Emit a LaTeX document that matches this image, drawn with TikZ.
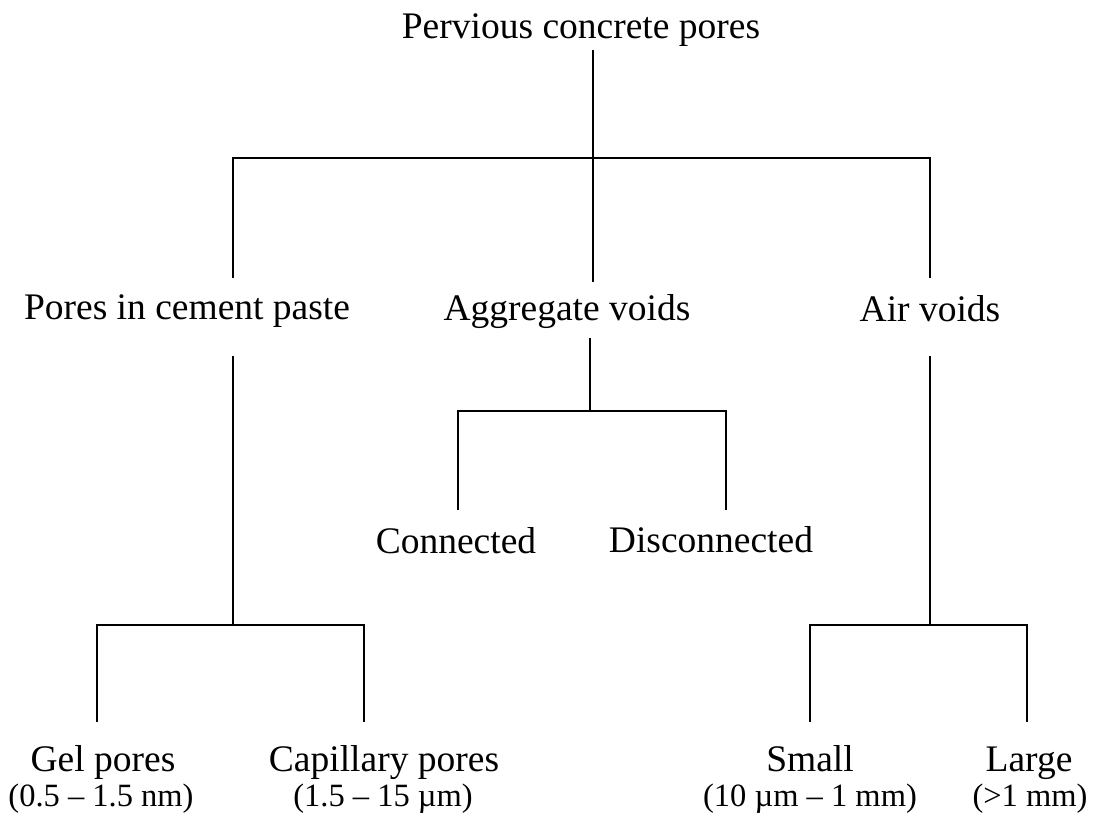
\documentclass[tikz,border=0pt]{standalone}
\usepackage{fontspec}
\setmainfont{Liberation Serif}
\begin{document}
\begin{tikzpicture}[x=1pt,y=-1pt,
  lbl/.style={inner sep=0pt, anchor=base, font=\fontsize{37.5}{44}\selectfont},
  sub/.style={inner sep=0pt, anchor=base, font=\fontsize{32.5}{38}\selectfont},
  conn/.style={line width=1.2pt, line cap=butt}]
\useasboundingbox (0,0) rectangle (1098,813);
% labels
\node[lbl] (root) at (581,39) {Pervious concrete pores};
\node[lbl] (paste) at (187,319) {Pores in cement paste};
\node[lbl] (agg) at (567,320) {Aggregate voids};
\node[lbl] (air) at (930,321) {Air voids};
\node[lbl] (con) at (456,553) {Connected};
\node[lbl] (dis) at (711,552) {Disconnected};
\node[lbl] (gel) at (103,771) {Gel pores};
\node[sub] (gelr) at (101,806) {(0.5 – 1.5 nm)};
\node[lbl] (cap) at (384,771) {Capillary pores};
\node[sub] (capr) at (383,806) {(1.5 – 15 µm)};
\node[lbl] (small) at (810,771) {Small};
\node[sub] (smallr) at (810,806) {(10 µm – 1 mm)};
\node[lbl] (large) at (1029,771) {Large};
\node[sub] (larger) at (1030,806) {(>1 mm)};
% junction coordinates
\coordinate (r0) at (593,50);
\coordinate (r1) at (593,158);
\coordinate (bl) at (233,158);
\coordinate (br) at (930,158);
\coordinate (pasteT) at (233,278);
\coordinate (aggT) at (593,282);
\coordinate (airT) at (930,278);
\coordinate (pasteB) at (233,356);
\coordinate (pasteJ) at (233,625);
\coordinate (gelJ) at (97,625);
\coordinate (capJ) at (364,625);
\coordinate (gelT) at (97,722);
\coordinate (capT) at (364,722);
\coordinate (aggB) at (590,338);
\coordinate (aggJ) at (590,411);
\coordinate (conJ) at (458,411);
\coordinate (disJ) at (726,411);
\coordinate (conT) at (458,510);
\coordinate (disT) at (726,510);
\coordinate (airB) at (930,356);
\coordinate (airJ) at (930,625);
\coordinate (smallJ) at (810,625);
\coordinate (largeJ) at (1027,625);
\coordinate (smallT) at (810,722);
\coordinate (largeT) at (1027,722);
% connectors
\draw[conn] (r0) -- (r1);
\draw[conn] (pasteT) -- (bl) -- (br) -- (airT);
\draw[conn] (r1) -- (aggT);
\draw[conn] (pasteB) -- (pasteJ);
\draw[conn] (gelT) -- (gelJ) -- (capJ) -- (capT);
\draw[conn] (aggB) -- (aggJ);
\draw[conn] (conT) -- (conJ) -- (disJ) -- (disT);
\draw[conn] (airB) -- (airJ);
\draw[conn] (smallT) -- (smallJ) -- (largeJ) -- (largeT);
\end{tikzpicture}
\end{document}
